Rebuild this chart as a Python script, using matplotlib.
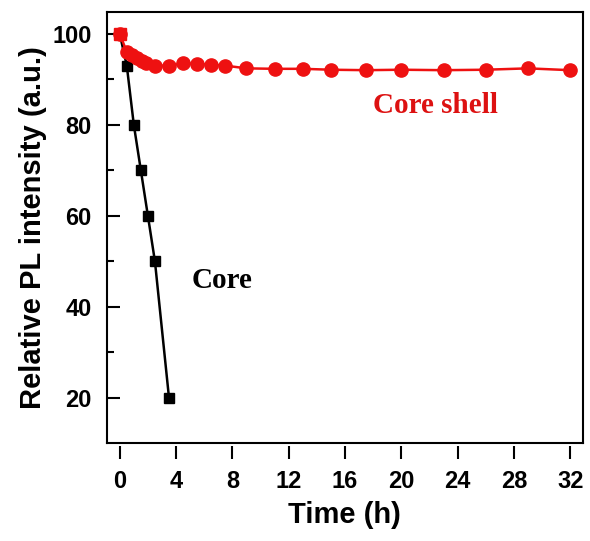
import numpy as np
import matplotlib.pyplot as plt
from matplotlib.ticker import MultipleLocator

# Core (black squares)
core_t = [0, 0.5, 1.0, 1.5, 2.0, 2.5, 3.5]
core_i = [100, 93, 80, 70, 60, 50, 20]

# Core shell (red circles)
shell_t = [0, 0.5, 0.85, 1.2, 1.6, 1.9, 2.5, 3.5, 4.5, 5.5, 6.5, 7.5,
           9, 11, 13, 15, 17.5, 20, 23, 26, 29, 32]
shell_i = [100, 96, 95.3, 94.6, 94.0, 93.5, 93.0, 93.0, 93.5, 93.4, 93.2, 93.0,
           92.4, 92.3, 92.3, 92.1, 92.0, 92.1, 92.0, 92.1, 92.4, 92.0]

x_ticks = [0, 4, 8, 12, 16, 20, 24, 28, 32]
y_ticks = [20, 40, 60, 80, 100]

plt.rcParams['font.family'] = ['Liberation Sans', 'DejaVu Sans']
plt.rcParams['font.weight'] = 'bold'

fig = plt.figure(figsize=(5.9, 5.41), dpi=100)
ax = fig.add_axes([0.181, 0.181, 0.807, 0.797])

ax.plot(core_t, core_i, color='black', marker='s', markersize=7, linewidth=1.8, zorder=3)
ax.plot(shell_t, shell_i, color='#ee1111', marker='o', markersize=9.5, linewidth=1.8, zorder=4)
ax.plot(core_t[0], core_i[0], color='#ee1111', marker='s', markersize=9, linestyle='none', zorder=5)

ax.set_xlim(-0.92, 32.9)
ax.set_ylim(10.1, 104.8)
ax.set_xticks(x_ticks)
ax.set_yticks(y_ticks)
ax.yaxis.set_minor_locator(MultipleLocator(10))

for s in ax.spines.values():
    s.set_linewidth(1.5)
# x ticks hang below the frame with a small gap
ax.spines['bottom'].set_position(('outward', 2))
ax.spines['bottom'].set_color('none')
ax.plot([0, 1], [0, 0], transform=ax.transAxes, color='black', linewidth=1.5, clip_on=False)

ax.tick_params(axis='y', which='major', direction='in', length=9, width=1.5, labelsize=17, pad=11)
ax.tick_params(axis='y', which='minor', direction='in', length=5, width=1.5)
ax.tick_params(axis='x', which='major', direction='out', length=9.4, width=1.5, labelsize=17, pad=8, color='black')

ax.set_xlabel('Time (h)', fontsize=21, fontweight='bold', labelpad=6)
ax.set_ylabel('Relative PL intensity (a.u.)', fontsize=21, fontweight='bold', labelpad=4)

ax.text(7.3, 45.9, 'Core', fontsize=21, fontweight='bold', family='Liberation Serif',
        color='black', ha='center', va='center')
ax.text(22.4, 84.2, 'Core shell', fontsize=21, fontweight='bold', family='Liberation Serif',
        color='#dd1111', ha='center', va='center')

plt.savefig('out.png', dpi=100)
